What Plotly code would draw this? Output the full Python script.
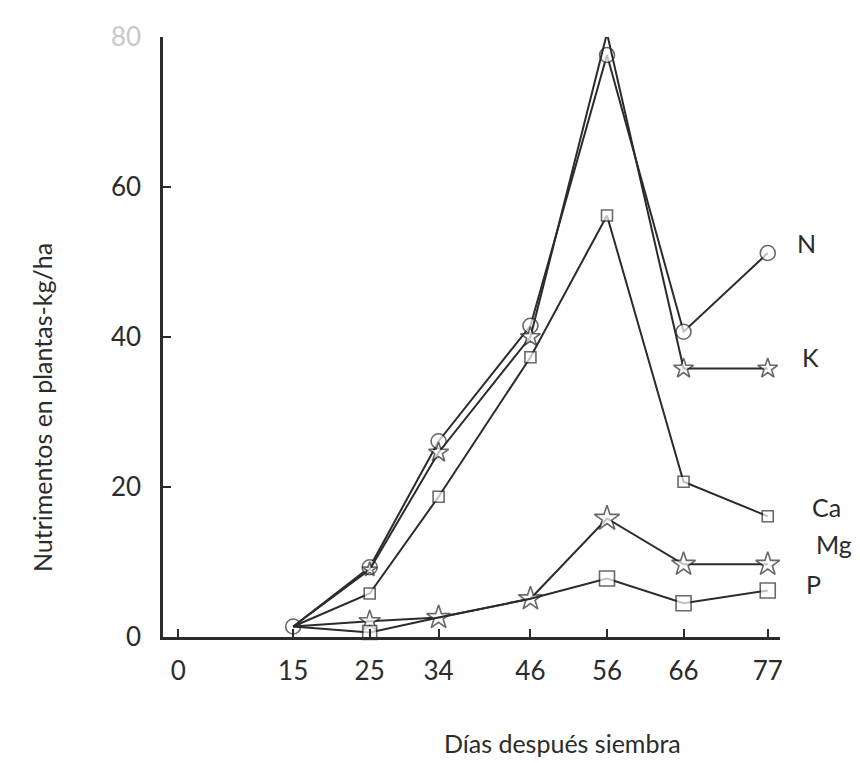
import plotly.graph_objects as go

# ---- data ----
dias = [15, 25, 34, 46, 56, 66, 77]
N  = [1.4, 9.3, 26.1, 41.5, 77.6, 40.7, 51.2]
K  = [1.4, 9.0, 24.6, 40.0, 80.5, 35.8, 35.8]
Ca = [1.4, 5.8, 18.7, 37.3, 56.2, 20.7, 16.1]
Mg = [1.4, 2.1, 2.6, 5.1, 15.8, 9.7, 9.7]
P  = [1.4, 0.6, 2.6, 5.1, 7.8, 4.5, 6.2]

x_ticks = [0, 15, 25, 34, 46, 56, 66, 77]
y_ticks = [0, 20, 40, 60, 80]
y_ticktext = ["0", "20", "40", "60", "<span style='color:#c8c8c8'>80</span>"]

INK = "#2b2b2b"
FONT = "Lato"

series = [
    ("N",  N,  "circle", [15, 15, 15, 15, 15, 15, 15]),
    ("K",  K,  "star",   [0, 11, 15, 15, 14, 15, 15]),
    ("Ca", Ca, "square", [0, 11, 11, 11, 11, 11, 11]),
    ("Mg", Mg, "star",   [0, 16, 18, 18, 19, 18, 18]),
    ("P",  P,  "square", [0, 14, 0, 0, 15, 15, 15]),
]

# page is offset by the 8px body margin, so the figure is 852x755
W, H = 852, 755
ML, MR, MT, MB = 155, 80, 21, 126
PW, PH = W - ML - MR, H - MT - MB


def px(xp):  # page pixel -> paper x
    return (xp - 8 - ML) / PW


def py(yp):  # page pixel -> paper y
    return 1 - (yp - 8 - MT) / PH


fig = go.Figure()
for name, vals, sym, sizes in series:
    fig.add_trace(go.Scatter(
        x=dias, y=vals, name=name, mode="lines+markers",
        line=dict(color=INK, width=2),
        marker=dict(symbol=sym, size=sizes, color="white",
                    line=dict(color=INK, width=1.6)),
        cliponaxis=False, showlegend=False,
    ))

labels = [("N", 806, 238), ("K", 810, 353), ("Ca", 826, 505), ("Mg", 834, 543), ("P", 813, 583)]
for txt, xp, yp in labels:
    fig.add_annotation(
        x=px(xp), y=py(yp), xref="paper", yref="paper", text=txt, showarrow=False,
        font=dict(family=FONT, size=25, color=INK),
        xanchor="center", yanchor="middle",
    )

# axis titles
fig.add_annotation(
    x=px(562), y=py(744), xref="paper", yref="paper",
    text="Días después siembra", showarrow=False,
    font=dict(family=FONT, size=25, color=INK), xanchor="center", yanchor="middle",
)
fig.add_annotation(
    x=px(42), y=py(405), xref="paper", yref="paper", textangle=-90,
    text="Nutrimentos en plantas-kg/ha", showarrow=False,
    font=dict(family=FONT, size=25, color=INK), xanchor="center", yanchor="middle",
)

fig.update_layout(
    width=W, height=H,
    margin=dict(l=ML, r=MR, t=MT, b=MB),
    paper_bgcolor="white", plot_bgcolor="white",
    font=dict(family=FONT, color=INK, size=26),
    xaxis=dict(
        range=[-2, 78.6], tickmode="array", tickvals=x_ticks,
        ticks="inside", ticklen=8, tickwidth=2, tickcolor=INK,
        showline=True, linecolor=INK, linewidth=2.5,
        showgrid=False, zeroline=False, ticklabelstandoff=9,
        tickfont=dict(family=FONT, size=26, color=INK),
    ),
    yaxis=dict(
        range=[0, 80], tickmode="array", tickvals=y_ticks, ticktext=y_ticktext,
        ticks="inside", ticklen=8, tickwidth=2, tickcolor=INK,
        showline=True, linecolor=INK, linewidth=2.5,
        showgrid=False, zeroline=False, ticklabelstandoff=14,
        tickfont=dict(family=FONT, size=26, color=INK),
    ),
)

fig.write_html("out.html")
